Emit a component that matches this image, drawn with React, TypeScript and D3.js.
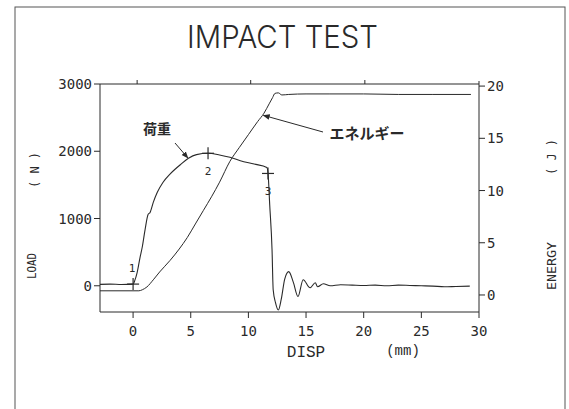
import React from "react";
import * as d3 from "d3";

// ---- data ----
const loadDisp = [-2.87, -2.0, -1.0, 0, 0.15, 0.35, 0.6, 0.8, 1.04, 1.3, 1.47, 1.75, 2.1, 2.6, 3.2, 4.1, 4.8, 5.5, 6.5, 7.5, 8.4, 9.3, 10.5, 11.6, 11.7, 11.85, 12.05, 12.15, 12.35, 12.6, 12.85, 13.15, 13.5, 13.9, 14.3, 14.75, 15.35, 15.8, 16.0, 16.5, 17.1, 18, 19, 20, 21, 22, 23, 24, 25, 26, 27, 28, 29.2];
const loadValues = [20, 25, 20, 25, 80, 195, 420, 580, 835, 1060, 1090, 1240, 1390, 1540, 1660, 1800, 1895, 1950, 1970, 1945, 1910, 1860, 1810, 1760, 1680, 1200, 540, -60, -250, -360, -200, 100, 210, 50, -160, 90, -30, 45, -15, 30, 0, 15, 10, 5, 10, 0, 10, 5, 0, -5, -15, -10, -5];

const energyDisp = [-2.87, 0.5, 0.8, 1.2, 1.75, 2.3, 3.2, 4.0, 4.7, 5.4, 6.1, 6.8, 7.5, 8.4, 9.2, 10.0, 10.8, 11.35, 11.8, 12.1, 12.3, 12.6, 12.9, 13.5, 15, 17, 20, 23, 26, 29.3];
const energyValues = [0.4, 0.4, 0.5, 0.77, 1.45, 2.2, 3.3, 4.4, 5.5, 6.8, 8.1, 9.4, 10.8, 12.8, 14.1, 15.35, 16.6, 17.4, 18.3, 18.9, 19.3, 19.35, 19.15, 19.2, 19.25, 19.25, 19.25, 19.2, 19.2, 19.2];

const xTicks = [0, 5, 10, 15, 20, 25, 30];
const loadTicks = [0, 1000, 2000, 3000];
const energyTicks = [0, 5, 10, 15, 20];
const topTicks = [0.35, 10.2, 20.1];

const markerDisp = [0, 6.5, 11.7];
const markerLoad = [25, 1970, 1670];
const markerLabels = ["1", "2", "3"];

const title = "IMPACT TEST";
const loadName = "荷重";
const energyName = "エネルギー";

// ---- layout ----
const W = 569, H = 409;
const left = 100, right = 479, top = 84, bottom = 312;

const ink = "#2a2a2a";
const mono = "'DejaVu Sans Mono', monospace";
const serifMono = "'Liberation Mono', monospace";
const cjk = "'Noto Sans CJK JP', sans-serif";
const light = "Inter, 'DejaVu Sans', sans-serif";

export default function App() {
  const x = d3.scaleLinear().domain([-2.87, 30]).range([left, right]);
  const yL = d3.scaleLinear().domain([-390, 3000]).range([bottom, top]);
  const yR = d3.scaleLinear().domain([-1.63, 20.2]).range([bottom, top]);

  const loadPts: [number, number][] = loadDisp.map((d, i) => [d, loadValues[i]]);
  const energyPts: [number, number][] = energyDisp.map((d, i) => [d, energyValues[i]]);

  const loadLine = d3.line<[number, number]>().x(d => x(d[0])).y(d => yL(d[1])).curve(d3.curveMonotoneX);
  const energyLine = d3.line<[number, number]>().x(d => x(d[0])).y(d => yR(d[1])).curve(d3.curveMonotoneX);

  // annotation anchors (data coords)
  const loadTip = [x(4.75), yL(1900)];
  const energyTip = [x(11.3), yR(17.2)];

  return (
    <svg width={W} height={H} style={{ position: "absolute", left: 0, top: 0, background: "#fff" }}>
      <defs>
        <marker id="ah" viewBox="0 0 10 10" refX="9" refY="5" markerWidth="7" markerHeight="7" orient="auto-start-reverse" markerUnits="userSpaceOnUse">
          <path d="M0,1 L10,5 L0,9 z" fill={ink} />
        </marker>
      </defs>
      <rect x={0} y={0} width={W} height={H} fill="#fff" />
      {/* outer frame */}
      <rect x={15} y={7} width={550} height={420} fill="none" stroke="#555" strokeWidth={1} />

      {/* title */}
      <text x={187} y={48} fontFamily={light} fontWeight={300} fontSize={31} fill={ink} textLength={191} lengthAdjust="spacingAndGlyphs">{title}</text>

      {/* plot box */}
      <g stroke={ink} strokeWidth={1} fill="none">
        <line x1={left} y1={top} x2={right} y2={top} />
        <line x1={left} y1={bottom} x2={right} y2={bottom} />
        <line x1={left} y1={top} x2={left} y2={bottom} />
        <line x1={right} y1={top - 3} x2={right} y2={bottom} />
        {loadTicks.map(t => <line key={"lt" + t} x1={left - 6} x2={left} y1={yL(t)} y2={yL(t)} />)}
        {energyTicks.map(t => <line key={"et" + t} x1={right} x2={right + 6} y1={yR(t)} y2={yR(t)} />)}
        {xTicks.map(t => <line key={"xt" + t} x1={x(t)} x2={x(t)} y1={bottom} y2={bottom + 6} />)}
        {topTicks.map(t => <line key={"tt" + t} x1={x(t)} x2={x(t)} y1={top - 4} y2={top} />)}
      </g>

      {/* tick labels */}
      <g fontFamily={mono} fontSize={14} fill={ink}>
        {loadTicks.map(t => <text key={"ll" + t} x={92} y={yL(t) + 5} textAnchor="end">{t}</text>)}
        {energyTicks.map(t => <text key={"el" + t} x={487} y={yR(t) + 5}>{t}</text>)}
        {xTicks.map(t => <text key={"xl" + t} x={x(t)} y={336} textAnchor="middle">{t}</text>)}
      </g>

      {/* axis titles */}
      <text x={306} y={357} fontFamily={serifMono} fontSize={16} fill={ink} textAnchor="middle">DISP</text>
      <text x={403} y={355} fontFamily={serifMono} fontSize={14} fill={ink} textAnchor="middle">(mm)</text>
      <text transform="translate(36,266) rotate(-90)" fontFamily={mono} fontSize={12} fill={ink} textAnchor="middle" textLength={26} lengthAdjust="spacingAndGlyphs">LOAD</text>
      <text transform="translate(39,170) rotate(-90)" fontFamily={mono} fontSize={12} fill={ink} textAnchor="middle" xmlSpace="preserve">( N )</text>
      <text transform="translate(556,266) rotate(-90)" fontFamily={mono} fontSize={13} fill={ink} textAnchor="middle" textLength={48} lengthAdjust="spacingAndGlyphs">ENERGY</text>
      <text transform="translate(556,157) rotate(-90)" fontFamily={mono} fontSize={12} fill={ink} textAnchor="middle" xmlSpace="preserve">( J )</text>

      {/* series */}
      <path d={loadLine(loadPts) || ""} fill="none" stroke={ink} strokeWidth={1.1} />
      <path d={energyLine(energyPts) || ""} fill="none" stroke={ink} strokeWidth={1} />

      {/* markers */}
      <g stroke={ink} strokeWidth={1.2}>
        {markerDisp.map((d, i) => (
          <g key={"m" + i}>
            <line x1={x(d) - 6} x2={x(d) + 6} y1={yL(markerLoad[i])} y2={yL(markerLoad[i])} />
            <line x1={x(d)} x2={x(d)} y1={yL(markerLoad[i]) - 6} y2={yL(markerLoad[i]) + 6} />
          </g>
        ))}
      </g>
      <g fontFamily={mono} fontSize={11} fill={ink} textAnchor="middle">
        {markerDisp.map((d, i) => (
          <text key={"ml" + i} x={x(d) - (i === 0 ? 1 : 0)} y={yL(markerLoad[i]) + (i === 0 ? -12 : 22)}>{markerLabels[i]}</text>
        ))}
      </g>

      {/* annotations */}
      <text x={157} y={134} fontFamily={cjk} fontSize={14} fontWeight={700} fill={ink} textAnchor="middle">{loadName}</text>
      <line x1={175} y1={143} x2={loadTip[0]} y2={loadTip[1]} stroke={ink} strokeWidth={1} markerEnd="url(#ah)" />
      <text x={367} y={139} fontFamily={cjk} fontSize={15} fontWeight={700} fill={ink} textAnchor="middle">{energyName}</text>
      <line x1={323} y1={132} x2={energyTip[0]} y2={energyTip[1]} stroke={ink} strokeWidth={1} markerEnd="url(#ah)" />
    </svg>
  );
}
